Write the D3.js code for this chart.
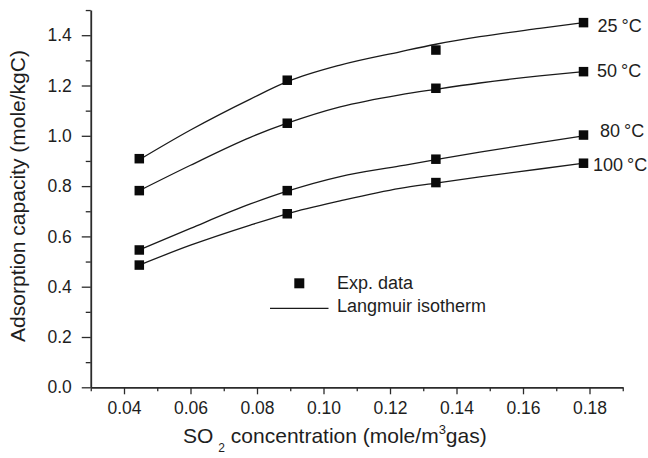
<!DOCTYPE html>
<html>
<head>
<meta charset="utf-8">
<script src="https://cdn.jsdelivr.net/npm/d3@7"></script>
<style>
  html, body { margin: 0; padding: 0; background: #fff; }
  svg { display: block; font-family: "Liberation Sans", Arial, sans-serif; }
</style>
</head>
<body>
<svg id="chart" width="648" height="458"></svg>
<script>
// ---- data ----
const temperatures = ["25", "50", "80", "100"];
const expX = [0.0446, 0.0891, 0.1338, 0.1782];
const exp25 = [0.909, 1.221, 1.341, 1.450];
const exp50 = [0.782, 1.050, 1.189, 1.255];
const exp80 = [0.546, 0.782, 0.907, 1.003];
const exp100 = [0.486, 0.690, 0.814, 0.891];

const fitX = [0.0446, 0.060, 0.078, 0.0891, 0.105, 0.123, 0.1338, 0.147, 0.165, 0.1782];
const fit25 = [0.905, 1.023, 1.146, 1.215, 1.281, 1.334, 1.364, 1.394, 1.427, 1.450];
const fit50 = [0.782, 0.883, 0.994, 1.050, 1.115, 1.163, 1.185, 1.210, 1.238, 1.255];
const fit80 = [0.546, 0.632, 0.729, 0.780, 0.838, 0.880, 0.905, 0.935, 0.973, 1.000];
const fit100 = [0.486, 0.565, 0.645, 0.690, 0.741, 0.791, 0.812, 0.837, 0.868, 0.891];

const xTickValues = [0.04, 0.06, 0.08, 0.10, 0.12, 0.14, 0.16, 0.18];
const xTickLabels = ["0.04", "0.06", "0.08", "0.10", "0.12", "0.14", "0.16", "0.18"];
const yTickValues = [0.0, 0.2, 0.4, 0.6, 0.8, 1.0, 1.2, 1.4];
const yTickLabels = ["0.0", "0.2", "0.4", "0.6", "0.8", "1.0", "1.2", "1.4"];
const xMinorTicks = [0.03, 0.05, 0.07, 0.09, 0.11, 0.13, 0.15, 0.17, 0.19];
const yMinorTicks = [0.1, 0.3, 0.5, 0.7, 0.9, 1.1, 1.3, 1.5];

const legendLabels = ["Exp. data", "Langmuir isotherm"];

// ---- drawing ----
const svg = d3.select("#chart");
const axisColor = "#2b2b2b";
const textColor = "#1e1e1e";
const tickFont = 17.5;
const titleFont = 21;
const labelFont = 18;

const x = d3.scaleLinear().domain([0.03, 0.19]).range([90.75, 622.75]);
const y = d3.scaleLinear().domain([0, 1.5]).range([387.3, 10.05]);

// X axis
const xAxisG = svg.append("g").attr("transform", `translate(0,${y(0)})`);
xAxisG.call(d3.axisBottom(x).tickValues(xTickValues)
    .tickFormat((d, i) => xTickLabels[i]).tickSize(7).tickPadding(7.5).tickSizeOuter(0));
xAxisG.append("g").call(d3.axisBottom(x).tickValues(xMinorTicks).tickFormat("").tickSize(4).tickSizeOuter(0))
  .select(".domain").remove();

// Y axis
const yAxisG = svg.append("g").attr("transform", `translate(${x(0.03)},0)`);
yAxisG.call(d3.axisLeft(y).tickValues(yTickValues)
    .tickFormat((d, i) => yTickLabels[i]).tickSize(9).tickPadding(10).tickSizeOuter(0));
yAxisG.append("g").call(d3.axisLeft(y).tickValues(yMinorTicks).tickFormat("").tickSize(5).tickSizeOuter(0))
  .select(".domain").remove();

svg.selectAll(".domain").attr("stroke", axisColor).attr("stroke-width", 1.8);
svg.selectAll(".tick line").attr("stroke", axisColor).attr("stroke-width", 1.3);
svg.selectAll(".tick text").attr("fill", textColor)
  .attr("font-size", tickFont).attr("font-family", "Liberation Sans, Arial, sans-serif");
xAxisG.selectAll(".tick text").attr("dy", "0.71em");

// Fit lines
const fits = [fit25, fit50, fit80, fit100];
const exps = [exp25, exp50, exp80, exp100];
const line = d3.line().x(d => x(d[0])).y(d => y(d[1])).curve(d3.curveMonotoneX);
fits.forEach(f => {
  svg.append("path")
    .datum(fitX.map((xv, i) => [xv, f[i]]))
    .attr("d", line)
    .attr("fill", "none")
    .attr("stroke", "#1a1a1a")
    .attr("stroke-width", 1.3);
});

// Experimental points
const sq = 9.5;
exps.forEach(e => {
  svg.append("g").selectAll("rect")
    .data(expX.map((xv, i) => [xv, e[i]]))
    .join("rect")
    .attr("x", d => x(d[0]) - sq / 2)
    .attr("y", d => y(d[1]) - sq / 2)
    .attr("width", sq).attr("height", sq)
    .attr("fill", "#0a0a0a");
});

// Temperature labels near last points
const labelOffsets = [14, 13.5, 16.5, 9.5];
const labelBaselines = [31.5, 76.5, 136.5, 170.5];
temperatures.forEach((t, i) => {
  const tx = svg.append("text")
    .attr("x", x(expX[3]) + labelOffsets[i])
    .attr("y", labelBaselines[i])
    .attr("font-size", labelFont)
    .attr("fill", textColor);
  tx.append("tspan").text(t);
  tx.append("tspan").attr("dx", 4).text("\u00B0C");
});

// Legend
svg.append("rect").attr("x", 299.3 - 5).attr("y", 283.3 - 5)
  .attr("width", 10).attr("height", 10).attr("fill", "#0a0a0a");
svg.append("text").attr("x", 337).attr("y", 289).attr("font-size", labelFont)
  .attr("fill", textColor).text(legendLabels[0]);
svg.append("line").attr("x1", 270).attr("x2", 328.5).attr("y1", 308.3).attr("y2", 308.3)
  .attr("stroke", "#1a1a1a").attr("stroke-width", 1.3);
svg.append("text").attr("x", 337).attr("y", 311.7).attr("font-size", labelFont)
  .attr("fill", textColor).text(legendLabels[1]);

// X axis title
const xt = svg.append("text").attr("x", 183).attr("y", 443)
  .attr("text-anchor", "start").attr("font-size", titleFont).attr("fill", textColor);
xt.append("tspan").text("SO");
xt.append("tspan").attr("font-size", 12).attr("dx", 5).attr("dy", 9).text("2");
xt.append("tspan").attr("dy", -9).text(" concentration (mole/m");
xt.append("tspan").attr("font-size", 13).attr("dy", -9).text("3");
xt.append("tspan").attr("dy", 9).text("gas)");

// Y axis title
svg.append("text")
  .attr("transform", "translate(25,196) rotate(-90)")
  .attr("text-anchor", "middle").attr("font-size", titleFont).attr("fill", textColor)
  .text("Adsorption capacity (mole/kgC)");
</script>
</body>
</html>
